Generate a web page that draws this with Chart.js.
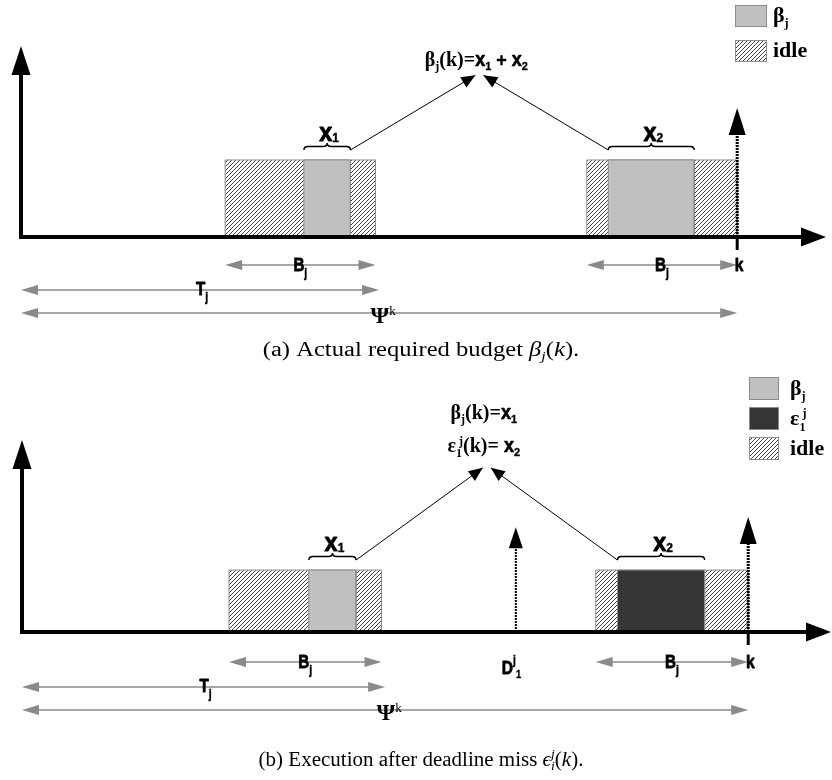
<!DOCTYPE html>
<html>
<head>
<meta charset="utf-8">
<script src="https://cdn.jsdelivr.net/npm/chart.js@4.4.1/dist/chart.umd.min.js"></script>
<style>
  body { margin: 0; background: #fff; }
  canvas { display: block; }
</style>
</head>
<body>
<canvas id="budgetChart" width="832" height="370"></canvas>
<canvas id="missChart" width="832" height="410"></canvas>
<script>
// time line (same units in both panels), k = 100
const idleWindows = [[28.5, 49.5], [79, 100]];   // B_j windows, hatched
const betaSpansA = [[39.5, 46], [82, 94]];        // executed budget in (a)
const betaSpansB = [[39.5, 46]];                  // executed budget in (b)
const overrunSpansB = [[82, 94]];                 // execution after the miss in (b)
const blockHeight = 1;
const periodT = 50;
const kTime = 100;
const deadlineD = 68;

const SANS = '"Liberation Sans", Arial, sans-serif';
const SERIF = '"Liberation Serif", "Times New Roman", serif';
const GRAY = '#c0c0c0', DARK = '#353535', EDGE = '#8c8c8c', RULER = '#8a8a8a';
const sb = s => `bold ${s}px ${SANS}`;
const fb = s => `bold ${s}px ${SERIF}`;
const fr = s => `${s}px ${SERIF}`;
const fi = s => `italic ${s}px ${SERIF}`;

function makeHatch() {
  const n = 4;
  const c = document.createElement('canvas');
  c.width = c.height = n;
  const g = c.getContext('2d');
  g.fillStyle = '#fff';
  g.fillRect(0, 0, n, n);
  g.strokeStyle = '#111';
  g.lineWidth = 0.8;
  g.beginPath();
  g.moveTo(-1, n + 1); g.lineTo(n + 1, -1);
  g.moveTo(-1, 1); g.lineTo(1, -1);
  g.moveTo(n - 1, n + 1); g.lineTo(n + 1, n - 1);
  g.stroke();
  return g.createPattern(c, 'repeat');
}
const HATCH = makeHatch();

// one rectangle = closed line dataset filled down to y = 0
function block(span, fill, order) {
  return {
    data: [
      { x: span[0], y: 0 }, { x: span[0], y: blockHeight },
      { x: span[1], y: blockHeight }, { x: span[1], y: 0 }
    ],
    borderColor: EDGE, borderWidth: 1, backgroundColor: fill, fill: 'origin',
    pointRadius: 0, tension: 0, order
  };
}

function head(ctx, x, y, ang, len, hw) {
  const c = Math.cos(ang), s = Math.sin(ang);
  ctx.beginPath();
  ctx.moveTo(x, y);
  ctx.lineTo(x - len * c + hw * s, y - len * s - hw * c);
  ctx.lineTo(x - len * c - hw * s, y - len * s + hw * c);
  ctx.closePath();
  ctx.fill();
}

// text runs with own font, vertical shift, horizontal squeeze and optional stroke
function rich(ctx, parts, x, y, align) {
  let w = 0;
  parts.forEach(p => {
    ctx.font = p.f;
    p.w = ctx.measureText(p.t).width * (p.sx || 1);
    if (!p.keep) w += p.w;
  });
  let cx = align === 'center' ? x - w / 2 : x;
  ctx.textAlign = 'left';
  ctx.textBaseline = 'alphabetic';
  parts.forEach(p => {
    ctx.save();
    ctx.translate(cx, y + (p.dy || 0));
    ctx.scale(p.sx || 1, 1);
    ctx.font = p.f;
    ctx.fillText(p.t, 0, 0);
    if (p.st) {
      ctx.lineWidth = p.st;
      ctx.strokeStyle = ctx.fillStyle;
      ctx.lineJoin = 'round';
      ctx.strokeText(p.t, 0, 0);
    }
    ctx.restore();
    if (!p.keep) cx += p.w;
  });
}

function ruler(ctx, x0, x1, y) {
  ctx.save();
  ctx.strokeStyle = RULER;
  ctx.fillStyle = RULER;
  ctx.lineWidth = 1.5;
  ctx.beginPath();
  ctx.moveTo(x0 + 10, y);
  ctx.lineTo(x1 - 10, y);
  ctx.stroke();
  head(ctx, x0, y, Math.PI, 17, 5);
  head(ctx, x1, y, 0, 17, 5);
  ctx.restore();
}

function brace(ctx, x0, x1, y) {
  const m = (x0 + x1) / 2, h = 7, r = 4;
  ctx.beginPath();
  ctx.moveTo(x0, y);
  ctx.quadraticCurveTo(x0, y - h / 2, x0 + r, y - h / 2);
  ctx.lineTo(m - r, y - h / 2);
  ctx.quadraticCurveTo(m, y - h / 2, m, y - h);
  ctx.quadraticCurveTo(m, y - h / 2, m + r, y - h / 2);
  ctx.lineTo(x1 - r, y - h / 2);
  ctx.quadraticCurveTo(x1, y - h / 2, x1, y);
  ctx.stroke();
}

function marker(ctx, x, yBase, yTip, lw, hl, hw) {
  ctx.save();
  ctx.lineWidth = lw;
  ctx.setLineDash([2, 1]);
  ctx.beginPath();
  ctx.moveTo(x, yBase);
  ctx.lineTo(x, yTip + hl - 1);
  ctx.stroke();
  ctx.restore();
  head(ctx, x, yTip, -Math.PI / 2, hl, hw);
}

const lab = (t, sub) => [{ t, f: sb(19), sx: 0.8, st: 0.8 }, { t: sub, f: sb(13), dy: 6, sx: 0.8, st: 0.5 }];

function drawPanel(chart, spec) {
  const { ctx, chartArea: a } = chart;
  const X = v => chart.scales.x.getPixelForValue(v);
  const Y = v => chart.scales.y.getPixelForValue(v);
  const x0 = X(0), y0 = Y(0);
  ctx.save();
  ctx.fillStyle = '#000';
  ctx.strokeStyle = '#000';

  // axes
  ctx.lineWidth = 4;
  ctx.beginPath();
  ctx.moveTo(x0, y0 + 2);
  ctx.lineTo(x0, a.top + 28);
  ctx.moveTo(x0 - 2, y0);
  ctx.lineTo(a.right - 24, y0);
  ctx.stroke();
  head(ctx, x0, a.top, -Math.PI / 2, 29, 9.5);
  head(ctx, a.right, y0, 0, 25, 9.5);

  // time k and deadline markers
  marker(ctx, X(kTime), y0, Y(spec.kTip), 3, 27, 8.5);
  ctx.lineWidth = 3;
  ctx.beginPath();
  ctx.moveTo(X(kTime), y0);
  ctx.lineTo(X(kTime), y0 + 13);
  ctx.stroke();
  if (spec.dTip) marker(ctx, X(deadlineD), y0, Y(spec.dTip), 2, 21, 7);

  // braces over the executed parts, arrows up to the formula
  const by = Y(blockHeight) - 10;
  ctx.lineWidth = 1.5;
  spec.braces.forEach(([s, n]) => {
    brace(ctx, X(s[0]), X(s[1]), by);
    rich(ctx, [{ t: 'x', f: sb(26), sx: 0.9, st: 0.9 }, { t: n, f: sb(12), dy: 1, st: 0.4 }],
      (X(s[0]) + X(s[1])) / 2 + 2, by - 9, 'center');
  });
  const s1 = spec.braces[0][0], s2 = spec.braces[1][0];
  const ax = X((s1[1] + s2[0]) / 2), ay = Y(spec.apex);
  ctx.lineWidth = 1;
  [[X(s1[1]), ax - 4], [X(s2[0]), ax + 4]].forEach(([sx, tx]) => {
    ctx.beginPath();
    ctx.moveTo(sx, by);
    ctx.lineTo(tx, ay);
    ctx.stroke();
    head(ctx, tx, ay, Math.atan2(ay - by, tx - sx), 14, 6);
  });
  spec.formula.forEach(l => rich(ctx, l.parts, ax - 3, l.y, 'center'));

  // budget / period / horizon rulers below the axis
  const [r1, r2, r3] = spec.rows.map(o => y0 + o);
  idleWindows.forEach(w => {
    ruler(ctx, X(w[0]), X(w[1]), r1);
    rich(ctx, lab('B', 'j'), (X(w[0]) + X(w[1])) / 2, r1 + 6, 'center');
  });
  rich(ctx, [{ t: 'k', f: sb(19), sx: 0.82, st: 0.8 }], X(kTime) + 2, r1 + 6, 'center');
  ruler(ctx, X(0), X(periodT), r2);
  rich(ctx, lab('T', 'j'), (X(0) + X(periodT)) / 2 + 2, r2 + 5, 'center');
  ruler(ctx, X(0), X(kTime), r3);
  rich(ctx, [{ t: 'Ψ', f: fb(24) }, { t: 'k', f: fr(13), dy: -8 }],
    (X(0) + X(kTime)) / 2 + 4, r3 + 10, 'center');
  if (spec.dTip) {
    rich(ctx, [{ t: 'D', f: sb(19), sx: 0.82, st: 0.8 }, { t: 'j', f: sb(12), dy: -10, sx: 0.85, st: 0.4 },
      { t: '1', f: sb(11), dy: 4, sx: 0.85, st: 0.4 }], X(deadlineD) - 14, spec.dLabel, 'left');
  }

  // legend
  const L = spec.legend;
  L.items.forEach(it => {
    ctx.fillStyle = it.fill;
    ctx.fillRect(L.x, it.top, L.w, L.h);
    ctx.strokeStyle = EDGE;
    ctx.lineWidth = 1;
    ctx.strokeRect(L.x + 0.5, it.top + 0.5, L.w - 1, L.h - 1);
    ctx.fillStyle = '#000';
    rich(ctx, it.parts, L.tx, it.top + L.h / 2 + 6, 'left');
  });

  ctx.fillStyle = '#000';
  rich(ctx, spec.caption.parts, 421, spec.caption.y, 'center');
  ctx.restore();
}

const betaLeg = () => [{ t: 'β', f: fb(22) }, { t: 'j', f: fb(12), dy: 5 }];
const idleLeg = () => [{ t: 'idle', f: fb(22) }];
const xSub = n => [{ t: 'x', f: sb(20), sx: 0.9, st: 0.6 }, { t: n, f: sb(11), dy: 4, st: 0.3 }];
const cap = (txt, sym, sup, sub, sx) => {
  const p = [{ t: txt, f: fr(20), sx }, { t: sym, f: fi(20), sx }];
  if (sup) p.push({ t: sup, f: fi(13), dy: -8, sx, keep: true });
  p.push({ t: sub, f: fi(13), dy: 4, sx });
  p.push({ t: '(', f: fr(20), sx }, { t: 'k', f: fi(20), sx }, { t: ').', f: fr(20), sx });
  return p;
};

const panelA = {
  pad: { left: 21, right: 6, top: 46, bottom: 133 }, xMax: 112.4, yMax: 2.48,
  datasets: [
    ...idleWindows.map(s => block(s, HATCH, 3)),
    ...betaSpansA.map(s => block(s, GRAY, 1))
  ],
  braces: [[betaSpansA[0], '1'], [betaSpansA[1], '2']],
  kTip: 1.675, apex: 2.1,
  formula: [{ y: 66, parts: [{ t: 'β', f: fb(20) }, { t: 'j', f: fb(12), dy: 4 }, { t: '(k)=', f: fb(20) },
    ...xSub('1'), { t: ' + ', f: sb(18), st: 0.4 }, ...xSub('2')] }],
  rows: [28, 53, 76],
  legend: { x: 735, w: 32, h: 22, tx: 773, items: [
    { top: 5, fill: GRAY, parts: betaLeg() },
    { top: 40, fill: HATCH, parts: idleLeg() }
  ] },
  caption: { y: 356, parts: cap('(a) Actual required budget ', 'β', null, 'j', 1.23) }
};

const panelB = {
  pad: { left: 22, right: 1, top: 70, bottom: 148 }, xMax: 111.4, yMax: 3.1,
  datasets: [
    ...idleWindows.map(s => block(s, HATCH, 3)),
    ...betaSpansB.map(s => block(s, GRAY, 1)),
    ...overrunSpansB.map(s => block(s, DARK, 1))
  ],
  braces: [[betaSpansB[0], '1'], [overrunSpansB[0], '2']],
  kTip: 1.855, dTip: 1.69, dLabel: 304, apex: 2.65,
  formula: [
    { y: 49, parts: [{ t: 'β', f: fb(20) }, { t: 'j', f: fb(12), dy: 4 }, { t: '(k)=', f: fb(20) }, ...xSub('1')] },
    { y: 82, parts: [{ t: 'ε', f: fb(20) }, { t: '1', f: fb(12), dy: 5, keep: true }, { t: ' j', f: fb(12), dy: -7 },
      { t: '(k)= ', f: fb(20) }, ...xSub('2')] }
  ],
  rows: [30, 55, 78],
  legend: { x: 749, w: 30, h: 23, tx: 790, items: [
    { top: 7, fill: GRAY, parts: betaLeg() },
    { top: 37, fill: DARK, parts: [{ t: 'ε', f: fb(22) }, { t: '1', f: fb(12), dy: 6, keep: true }, { t: ' j', f: fb(12), dy: -8 }] },
    { top: 67, fill: HATCH, parts: idleLeg() }
  ] },
  caption: { y: 396, parts: cap('(b) Execution after deadline miss ', 'ϵ', 'j', 'i', 1.05) }
};

function makeChart(id, spec) {
  return new Chart(document.getElementById(id), {
    type: 'line',
    data: { datasets: spec.datasets },
    options: {
      responsive: false,
      animation: false,
      events: [],
      layout: { padding: spec.pad },
      scales: {
        x: { type: 'linear', min: 0, max: spec.xMax, display: false },
        y: { type: 'linear', min: 0, max: spec.yMax, display: false }
      },
      plugins: { legend: { display: false }, tooltip: { enabled: false } }
    },
    plugins: [{ id: 'timeline', afterDraw: chart => drawPanel(chart, spec) }]
  });
}

makeChart('budgetChart', panelA);
makeChart('missChart', panelB);
</script>
</body>
</html>
